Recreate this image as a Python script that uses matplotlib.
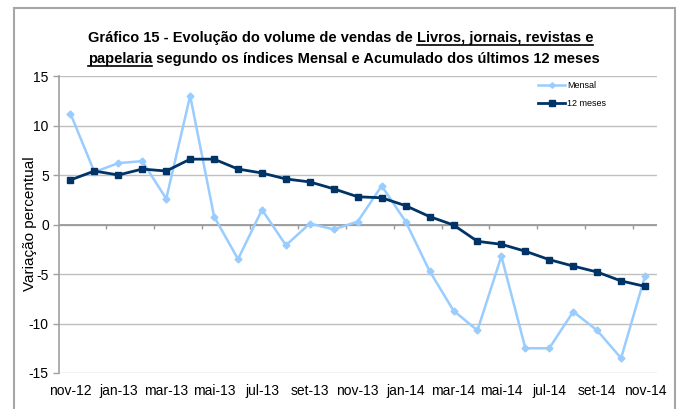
import matplotlib
matplotlib.use("Agg")
import matplotlib.pyplot as plt
from matplotlib.lines import Line2D
from matplotlib.patches import Rectangle

plt.rcParams['font.family'] = ['Liberation Sans', 'DejaVu Sans']

months = ['nov-12', 'dez-12', 'jan-13', 'fev-13', 'mar-13', 'abr-13', 'mai-13',
          'jun-13', 'jul-13', 'ago-13', 'set-13', 'out-13', 'nov-13', 'dez-13',
          'jan-14', 'fev-14', 'mar-14', 'abr-14', 'mai-14', 'jun-14', 'jul-14',
          'ago-14', 'set-14', 'out-14', 'nov-14']
mensal = [11.2, 5.3, 6.2, 6.4, 2.6, 13.0, 0.8, -3.5, 1.5, -2.1, 0.1, -0.5, 0.3,
          3.9, 0.3, -4.7, -8.7, -10.7, -3.2, -12.5, -12.5, -8.8, -10.7, -13.5, -5.2]
doze_meses = [4.5, 5.4, 5.0, 5.6, 5.4, 6.6, 6.6, 5.6, 5.2, 4.6, 4.3, 3.6, 2.8,
              2.7, 1.9, 0.8, -0.05, -1.7, -2.0, -2.7, -3.55, -4.2, -4.8, -5.7, -6.25]
series_names = ['Mensal', '12 meses']
yticks = [-15, -10, -5, 0, 5, 10, 15]

W, H = 680, 409
fig = plt.figure(figsize=(W / 100, H / 100), dpi=100)

# outer frame
fig.patches.append(Rectangle((14 / W, -0.05), (675 - 14) / W, 1 - 8 / H + 0.05,
                             transform=fig.transFigure, fill=False,
                             edgecolor='#A6A6A6', linewidth=1.5))

left, right, top, bottom = 58.5, 657, 76, 373
ax = fig.add_axes([left / W, 1 - bottom / H, (right - left) / W, (bottom - top) / H])

x = list(range(len(months)))
ax.plot(x, mensal, color='#99CCFF', marker='D', markersize=3.5, linewidth=1.8,
        label=series_names[0], zorder=3)
ax.plot(x, doze_meses, color='#003366', marker='s', markersize=5, linewidth=2,
        label=series_names[1], zorder=4)

ax.set_xlim(-0.5, len(months) - 0.5)
ax.set_ylim(-15, 15)
ax.set_yticks(yticks)
ax.set_yticklabels([str(v) for v in yticks], fontsize=10)
ax.yaxis.grid(True, color='#BFBFBF', linewidth=1)
ax.set_axisbelow(True)
ax.axhline(0, color='#9A9A9A', linewidth=1.3, zorder=1)

# category axis tick marks at zero (pointing down), between every 2 categories
tick_pos = [i + 1.5 for i in range(0, len(months) - 1, 2)]
ax.vlines(tick_pos, -0.45, 0, colors='#9A9A9A', linewidth=1, zorder=1)

ax.set_xticks(x[::2])
ax.set_xticklabels(months[::2], fontsize=10)
ax.tick_params(axis='x', length=0, pad=8)
ax.tick_params(axis='y', length=4, color='#A0A0A0', width=1, pad=3)

for s in ['top', 'right', 'bottom']:
    ax.spines[s].set_visible(False)
ax.spines['left'].set_color('#A0A0A0')
ax.spines['left'].set_linewidth(1.2)

fig.text(30 / W, 1 - 224 / H, 'Variação percentual', rotation=90, fontsize=11,
         ha='center', va='center')

leg = ax.legend(loc='upper left', bbox_to_anchor=(538 / W, 1 - 81 / H),
                bbox_transform=fig.transFigure, frameon=False, fontsize=6.5,
                handlelength=3.0, handletextpad=0.2, labelspacing=1.0,
                borderpad=0, borderaxespad=0, markerscale=0.8)

# title with underlined parts
title_lines = [
    [('Gráfico 15 - Evolução do volume de vendas de ', False),
     ('Livros, jornais, revistas e', True)],
    [('papelaria', True),
     (' segundo os índices Mensal e Acumulado dos últimos 12 meses', False)],
]
fig.canvas.draw()
renderer = fig.canvas.get_renderer()
baselines = [42, 63]
x0 = 88
for parts, yb in zip(title_lines, baselines):
    cur = x0
    for txt, ul in parts:
        t = fig.text(cur / W, 1 - yb / H, txt, fontsize=10.5, fontweight='bold',
                     ha='left', va='baseline')
        bb = t.get_window_extent(renderer)
        if ul:
            fig.add_artist(Line2D([bb.x0 / W, bb.x1 / W],
                                  [1 - (yb + 3) / H, 1 - (yb + 3) / H],
                                  color='black', linewidth=1.2,
                                  transform=fig.transFigure))
        cur = bb.x1

fig.savefig('out.png', dpi=100)
